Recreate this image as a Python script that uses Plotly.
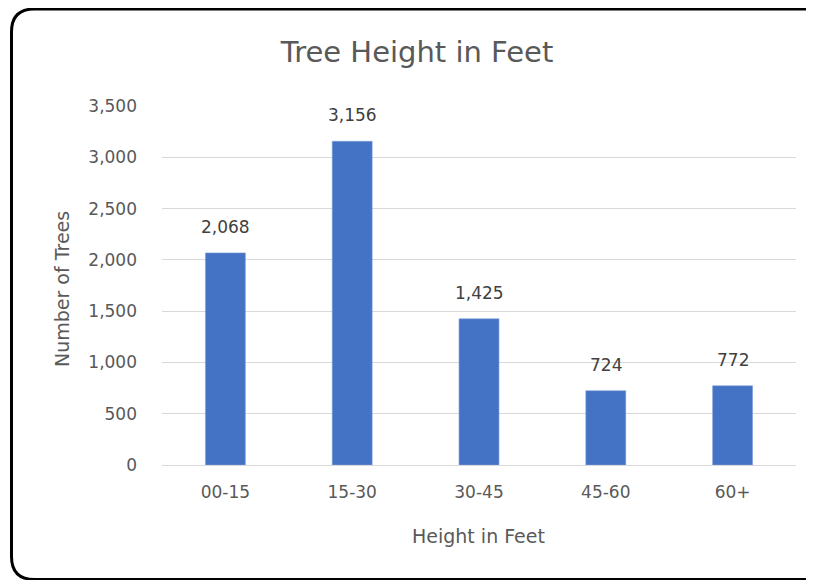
import plotly.graph_objects as go

categories = ["00-15", "15-30", "30-45", "45-60", "60+"]
tree_counts = [2068, 3156, 1425, 724, 772]
y_ticks = [0, 500, 1000, 1500, 2000, 2500, 3000, 3500]

# the page body adds an 8px margin, so layout is placed 8px up/left
W, H = 814, 580
L, R, T, B = 154, 26, 98, 123
pw, ph = W - L - R, H - T - B

FONT = "DejaVu Sans, Liberation Sans, sans-serif"
GREY = "#595959"


def px(x):
    return (x - L) / pw


def py(y):
    return (H - B - y) / ph


# rounded frame around the whole chart (right edge runs off the page)
x0, x1, y0, y1, r = 3.5, 818, 1.0, 571.5, 23
frame = (
    f"M {px(x0 + r)},{py(y0)} L {px(x1 - r)},{py(y0)} "
    f"Q {px(x1)},{py(y0)} {px(x1)},{py(y0 + r)} "
    f"L {px(x1)},{py(y1 - r)} Q {px(x1)},{py(y1)} {px(x1 - r)},{py(y1)} "
    f"L {px(x0 + r)},{py(y1)} Q {px(x0)},{py(y1)} {px(x0)},{py(y1 - r)} "
    f"L {px(x0)},{py(y0 + r)} Q {px(x0)},{py(y0)} {px(x0 + r)},{py(y0)} Z"
)

fig = go.Figure(go.Bar(
    x=categories,
    y=tree_counts,
    marker=dict(color="#4472C4", line=dict(color="#7F9FD8", width=0.6)),
    hoverinfo="x+y",
))

# data labels above the bars
annotations = [
    dict(x=c, y=v, xref="x", yref="y", text=f"{v:,}", showarrow=False,
         yanchor="middle", yshift=26, font=dict(size=17, color="#404040"))
    for c, v in zip(categories, tree_counts)
]
annotations += [
    dict(text="Height in Feet", xref="paper", yref="paper",
         x=px(470), y=py(528), xanchor="center", yanchor="middle",
         showarrow=False, font=dict(size=19, color=GREY)),
    dict(text="Number of Trees", xref="paper", yref="paper",
         x=px(54), y=py(281), xanchor="center", yanchor="middle",
         showarrow=False, textangle=-90, font=dict(size=19, color=GREY)),
]

fig.update_layout(
    width=W, height=H,
    margin=dict(l=L, r=R, t=T, b=B),
    paper_bgcolor="white",
    plot_bgcolor="white",
    font=dict(family=FONT, color=GREY),
    bargap=0.685,
    showlegend=False,
    title=dict(
        text="Tree Height in Feet",
        font=dict(size=29, color=GREY),
        x=409 / W, xanchor="center",
        y=1 - 44 / H, yanchor="middle",
    ),
    xaxis=dict(
        tickfont=dict(size=17, color=GREY),
        showline=True, linecolor="#D9D9D9", linewidth=1,
        ticks="", ticklabelstandoff=12,
    ),
    yaxis=dict(
        range=[0, 3500],
        tickvals=y_ticks,
        tickformat=",",
        tickfont=dict(size=17, color=GREY),
        gridcolor="#D9D9D9", gridwidth=1,
        zeroline=False, ticks="", ticklabelstandoff=24,
    ),
    annotations=annotations,
    shapes=[dict(
        type="path", path=frame, xref="paper", yref="paper",
        line=dict(color="black", width=3), layer="above",
    )],
)

fig.write_html("out.html")
